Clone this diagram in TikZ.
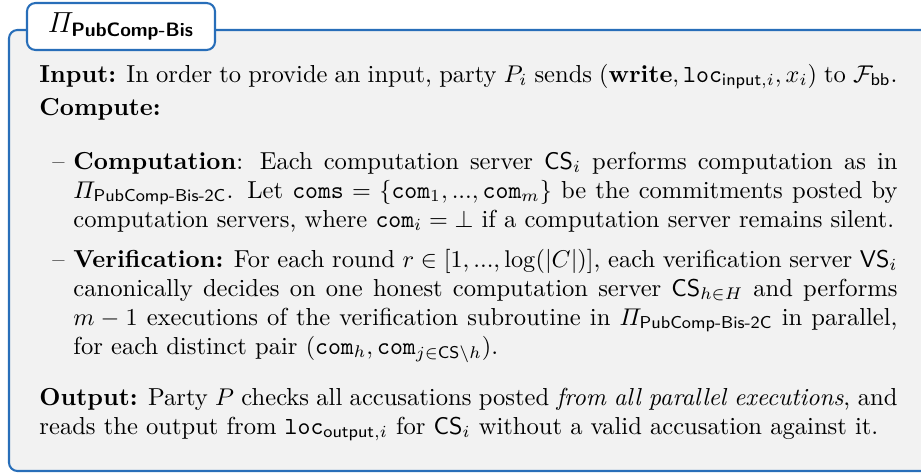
\documentclass[tikz,border=0pt]{standalone}
\usepackage{amsmath,amssymb}
\definecolor{frameblue}{RGB}{40,110,185}
\definecolor{bodygray}{RGB}{242,242,242}
\newcommand{\srvCS}{\mathsf{CS}}
\newcommand{\srvVS}{\mathsf{VS}}
\newcommand{\tcom}{\texttt{com}}
\newcommand{\tloc}{\texttt{loc}}
\newcommand{\protoname}[1]{\varPi_{\textsf{#1}}}
\tikzset{
  bodyfont/.style={font=\fontsize{10.15pt}{12pt}\selectfont},
  para/.style={bodyfont, inner sep=0pt, anchor=base west, align=justify, text width=354.5pt},
  itempara/.style={para, text width=340.5pt},
  itemdash/.style={bodyfont, inner sep=0pt, anchor=base west},
  framebox/.style={draw=frameblue, fill=bodygray, line width=0.85pt, rounded corners=3.5pt},
  titlebox/.style={draw=frameblue, fill=white, line width=0.85pt, rounded corners=3.5pt,
    minimum width=77.7pt, minimum height=19.4pt, inner sep=0pt, font=\large},
}
\begin{document}
\begin{tikzpicture}[x=0.4132pt, y=-0.4132pt]
\useasboundingbox (0,0) rectangle (921,473);
% outer frame, open to the right
\begin{scope}
  \clip (0,0) rectangle (921,473);
  \draw[framebox] (9,30) rectangle (960,471);
\end{scope}
% title tab
\node[titlebox] (title) at (121,26.5) {$\varPi_{\textsf{\textbf{PubComp-Bis}}}$};
% body
\node[para] (input) at (39,82) {\textbf{Input:} In order to provide an input, party $P_i$ sends $(\textbf{write}, \tloc_{\textsf{input},i}, x_i)$ to $\mathcal{F}_{\textsf{bb}}$.};
\node[para] (compute) at (39,115) {\textbf{Compute:}};
\node[itemdash] (dashA) at (52,169) {--};
\node[itempara] (comp) at (73,169) {\textbf{Computation}: Each computation server $\srvCS_i$ performs computation as in\linebreak $\protoname{PubComp-Bis-2C}$. Let $\texttt{coms} = \{\tcom_1, ..., \tcom_m\}$ be the commitments posted by\linebreak computation servers, where $\tcom_i = \bot$ if a computation server remains silent.};
\node[itemdash] (dashB) at (52,267) {--};
\node[itempara] (verif) at (73,267) {\textbf{Verification:} For each round $r \in [1, ..., \log(|C|)]$, each verification server $\srvVS_i$\linebreak canonically decides on one honest computation server $\srvCS_{h\in H}$ and performs\linebreak $m-1$ executions of the verification subroutine in $\protoname{PubComp-Bis-2C}$ in parallel,\linebreak for each distinct pair $(\tcom_h, \tcom_{j\in \srvCS\setminus h})$.};
\node[para] (output) at (39,405) {\textbf{Output:} Party $P$ checks all accusations posted \emph{from all parallel executions}, and\linebreak reads the output from $\tloc_{\textsf{output},i}$ for $\srvCS_i$ without a valid accusation against it.};
\end{tikzpicture}
\end{document}
